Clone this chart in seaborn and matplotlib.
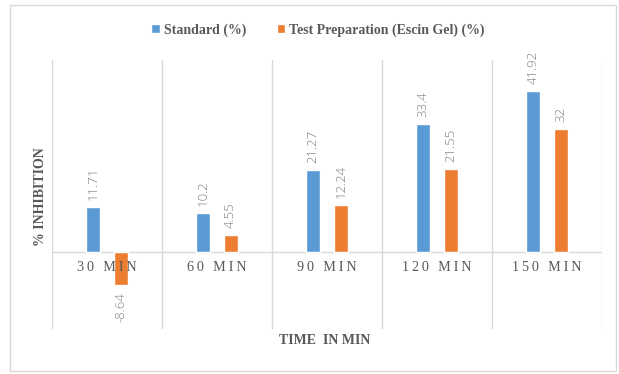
import matplotlib
matplotlib.use("Agg")
import matplotlib.pyplot as plt
from matplotlib.patches import Rectangle
import seaborn as sns
import pandas as pd

# Inhibition data per time point
times = ["30 MIN", "60 MIN", "90 MIN", "120 MIN", "150 MIN"]
standard = [11.71, 10.2, 21.27, 33.4, 41.92]
escin_gel = [-8.64, 4.55, 12.24, 21.55, 32]
series_names = ["Standard (%)", "Test Preparation (Escin Gel) (%)"]

df = pd.DataFrame({
    "time": times * 2,
    "value": standard + escin_gel,
    "series": [series_names[0]] * len(times) + [series_names[1]] * len(times),
})

sns.set_theme(style="white")
plt.rcParams["font.family"] = ["Liberation Serif", "DejaVu Serif"]

fig = plt.figure(figsize=(6.19, 3.74), dpi=100)
ax = fig.add_axes([52 / 619, 1 - 329 / 374, 550 / 619, 269 / 374])

palette = {series_names[0]: "#5B9BD5", series_names[1]: "#ED7D31"}
sns.barplot(data=df, x="time", y="value", hue="series", order=times,
            hue_order=series_names, palette=palette, width=0.5, gap=0.48,
            saturation=1, ax=ax, errorbar=None, legend=True)

for cont in ax.containers:
    ax.bar_label(cont, labels=[f"{v:g}" for v in cont.datavalues],
                 rotation=90, padding=5, fontsize=9.5, color="#7F7F7F",
                 family=["Open Sans", "DejaVu Sans"], fontweight="light")

ax.set_ylim(-20, 50)
ax.set_xlim(-0.5, len(times) - 0.5)

# category separators and zero line
grid_c = "#D9D9D9"
for b in range(len(times) + 1):
    ax.axvline(b - 0.5, color=grid_c, lw=1, zorder=0)
ax.axhline(0, color=grid_c, lw=1, zorder=0.5)
for s in ax.spines.values():
    s.set_visible(False)

ax.set_yticks([])
ax.set_xticks([])
thin = "\u2009"
for i, t in enumerate(times):
    spaced = thin.join(t)
    ax.text(i, -2.3, spaced, ha="center", va="top", fontsize=10.2,
            color="#595959", zorder=5)

ax.set_xlabel("")
ax.set_ylabel("")
fig.text(325 / 619, 1 - 340 / 374, "TIME  IN MIN", ha="center", va="center",
         fontsize=10, fontweight="bold", color="#595959")
fig.text(40 / 619, 1 - 197 / 374, "% INHIBITION", ha="center", va="center",
         rotation=90, fontsize=10, fontweight="bold", color="#595959")

leg = ax.legend(loc="center", bbox_to_anchor=(318 / 619, 1 - 30 / 374),
                bbox_transform=fig.transFigure, ncol=2, frameon=False,
                handlelength=0.6, handleheight=0.6, handletextpad=0.3,
                columnspacing=2.2, prop={"size": 10, "weight": "bold"})
for txt in leg.get_texts():
    txt.set_color("#595959")

fig.patches.append(Rectangle((10 / 619, 1 - 371 / 374), 606 / 619, 366 / 374,
                             transform=fig.transFigure, fill=False,
                             edgecolor="#D9D9D9", lw=1))

fig.savefig("out.png", dpi=100)
